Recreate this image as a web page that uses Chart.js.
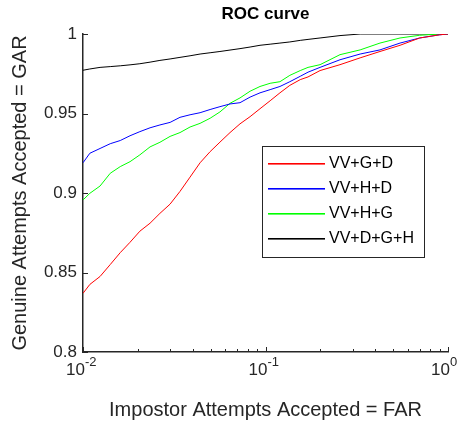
<!DOCTYPE html>
<html>
<head>
<meta charset="utf-8">
<script src="https://cdn.jsdelivr.net/npm/chart.js@4.4.1/dist/chart.umd.min.js"></script>
<style>
  body { margin: 0; background: #fff; }
  #wrap { width: 466px; height: 425px; }
</style>
</head>
<body>
<div id="wrap"><canvas id="roc" width="466" height="425"></canvas></div>
<script>
// FAR values (x) shared by all curves
const far = [0.01, 0.0109, 0.0124, 0.0141, 0.016, 0.0181, 0.0205, 0.0233, 0.0264, 0.03,
  0.034, 0.0386, 0.0438, 0.0497, 0.0563, 0.0639, 0.0725, 0.0823, 0.0933, 0.106,
  0.12, 0.136, 0.155, 0.171, 0.199, 0.256, 0.33, 0.424, 0.546, 0.70, 0.90, 1.0];

// GAR for each combination
const garVVGD = [0.8369, 0.8425, 0.8475, 0.855, 0.8625, 0.869, 0.876, 0.881, 0.8872, 0.893,
  0.901, 0.910, 0.919, 0.926, 0.932, 0.938, 0.9435, 0.948, 0.953, 0.958,
  0.963, 0.9677, 0.9713, 0.973, 0.977, 0.9807, 0.985, 0.989, 0.9929, 0.9975, 0.9995, 1.0];
const garVVHD = [0.919, 0.925, 0.928, 0.931, 0.933, 0.936, 0.9386, 0.941, 0.9428, 0.9444,
  0.9476, 0.9492, 0.9505, 0.9525, 0.9543, 0.956, 0.9568, 0.9603, 0.963, 0.965,
  0.967, 0.970, 0.9734, 0.976, 0.979, 0.9838, 0.9874, 0.990, 0.9943, 0.9975, 0.9995, 1.0];
const garVVHG = [0.8956, 0.8998, 0.9044, 0.9124, 0.9166, 0.9197, 0.924, 0.929, 0.9319, 0.9356,
  0.938, 0.9415, 0.9438, 0.947, 0.951, 0.9564, 0.9598, 0.964, 0.967, 0.969,
  0.970, 0.974, 0.977, 0.979, 0.9807, 0.987, 0.990, 0.9943, 0.9975, 0.9992, 1.0, 1.0];
const garAll = [0.9772, 0.978, 0.979, 0.9795, 0.980, 0.9806, 0.9813, 0.9823, 0.9834, 0.9843,
  0.9853, 0.9863, 0.9874, 0.9882, 0.989, 0.9899, 0.9908, 0.9918, 0.9929, 0.9936,
  0.9943, 0.995, 0.996, 0.9966, 0.9975, 0.999, 1.0, 1.0, 1.0, 1.0, 1.0, 1.0];

const seriesNames = ['VV+G+D', 'VV+H+D', 'VV+H+G', 'VV+D+G+H'];
const seriesColors = ['#ff0000', '#0000ff', '#00ff00', '#000000'];
const xMajorTicks = [0.01, 0.1, 1];
const xTickExp = ['-2', '-1', '0'];
const yTicks = [0.8, 0.85, 0.9, 0.95, 1];

const FONT = "'Liberation Sans', Arial, Helvetica, sans-serif";
const AX = '#262626';

const toPts = ys => ys.map((v, i) => ({ x: far[i], y: v }));
const allGar = [garVVGD, garVVHD, garVVHG, garAll];

// ticks pointing inward, superscript labels, legend box and title
const decor = {
  id: 'decor',
  afterDraw(chart) {
    const { ctx, chartArea: a, scales: { x, y } } = chart;
    ctx.save();
    ctx.strokeStyle = AX;
    ctx.lineWidth = 1;
    // y ticks
    yTicks.forEach(v => {
      const py = Math.round(y.getPixelForValue(v)) + 0.5;
      ctx.beginPath(); ctx.moveTo(a.left, py); ctx.lineTo(a.left + 5, py); ctx.stroke();
    });
    // x ticks, major + minor
    for (let e = -2; e < 0; e++) {
      for (let m = 1; m <= 10; m++) {
        const v = m * Math.pow(10, e);
        const px = Math.round(x.getPixelForValue(v)) + 0.5;
        const len = (m === 1 || m === 10) ? 5 : 3;
        ctx.beginPath(); ctx.moveTo(px, a.bottom); ctx.lineTo(px, a.bottom - len); ctx.stroke();
      }
    }
    // x tick labels 10^n
    ctx.fillStyle = AX;
    ctx.textBaseline = 'middle';
    xMajorTicks.forEach((v, i) => {
      const px = x.getPixelForValue(v);
      ctx.font = '17px ' + FONT;
      ctx.textAlign = 'right';
      ctx.fillText('10', px + 2, a.bottom + 18);
      ctx.font = '13px ' + FONT;
      ctx.textAlign = 'left';
      ctx.fillText(xTickExp[i], px + 2, a.bottom + 10);
    });
    // title
    ctx.fillStyle = '#000';
    ctx.font = 'bold 17px ' + FONT;
    ctx.textAlign = 'center';
    ctx.fillText('ROC curve', (a.left + a.right) / 2, 14);
    // legend
    const lx = 262, ly = 146, lw = 162, lh = 111;
    ctx.fillStyle = '#fff';
    ctx.fillRect(lx, ly, lw, lh);
    ctx.strokeStyle = AX;
    ctx.strokeRect(lx + 0.5, ly + 0.5, lw, lh);
    ctx.font = '16px ' + FONT;
    ctx.textAlign = 'left';
    chart.data.datasets.forEach((ds, i) => {
      const ry = ly + 17 + i * 25;
      ctx.fillStyle = ds.borderColor;
      ctx.fillRect(lx + 6, ry, 57, 1.6);
      ctx.fillStyle = '#000';
      ctx.fillText(ds.label, lx + 67, ry + 1);
    });
    ctx.restore();
  }
};

new Chart(document.getElementById('roc'), {
  type: 'line',
  data: {
    datasets: seriesNames.map((name, i) => ({
      label: name,
      data: toPts(allGar[i]),
      borderColor: seriesColors[i],
      borderWidth: 1,
      pointRadius: 0,
      tension: 0,
      fill: false
    }))
  },
  options: {
    responsive: false,
    animation: false,
    layout: { padding: { top: 34, right: 18, bottom: 0, left: 0 } },
    plugins: { legend: { display: false }, title: { display: false }, tooltip: { enabled: false } },
    scales: {
      x: {
        type: 'logarithmic',
        min: 0.01,
        max: 1,
        grid: { display: false, drawTicks: false },
        border: { display: true, color: AX, width: 1.5 },
        ticks: { display: false },
        title: {
          display: true,
          text: 'Impostor Attempts Accepted = FAR',
          color: AX,
          font: { family: FONT, size: 20 },
          padding: { top: 0, bottom: 3 }
        },
        afterFit(scale) { scale.height = 73; }
      },
      y: {
        min: 0.8,
        max: 1,
        grid: { display: false, drawTicks: false },
        border: { display: true, color: AX, width: 1.5 },
        afterBuildTicks(scale) { scale.ticks = yTicks.map(v => ({ value: v })); },
        ticks: {
          color: AX,
          padding: 6,
          font: { family: FONT, size: 17 },
          callback: v => String(parseFloat(v.toFixed(2)))
        },
        title: {
          display: true,
          text: 'Genuine Attempts Accepted = GAR',
          color: AX,
          font: { family: FONT, size: 20 },
          padding: { top: 8, bottom: 0 }
        },
        afterFit(scale) { scale.width = 83; }
      }
    }
  },
  plugins: [decor]
});
</script>
</body>
</html>
